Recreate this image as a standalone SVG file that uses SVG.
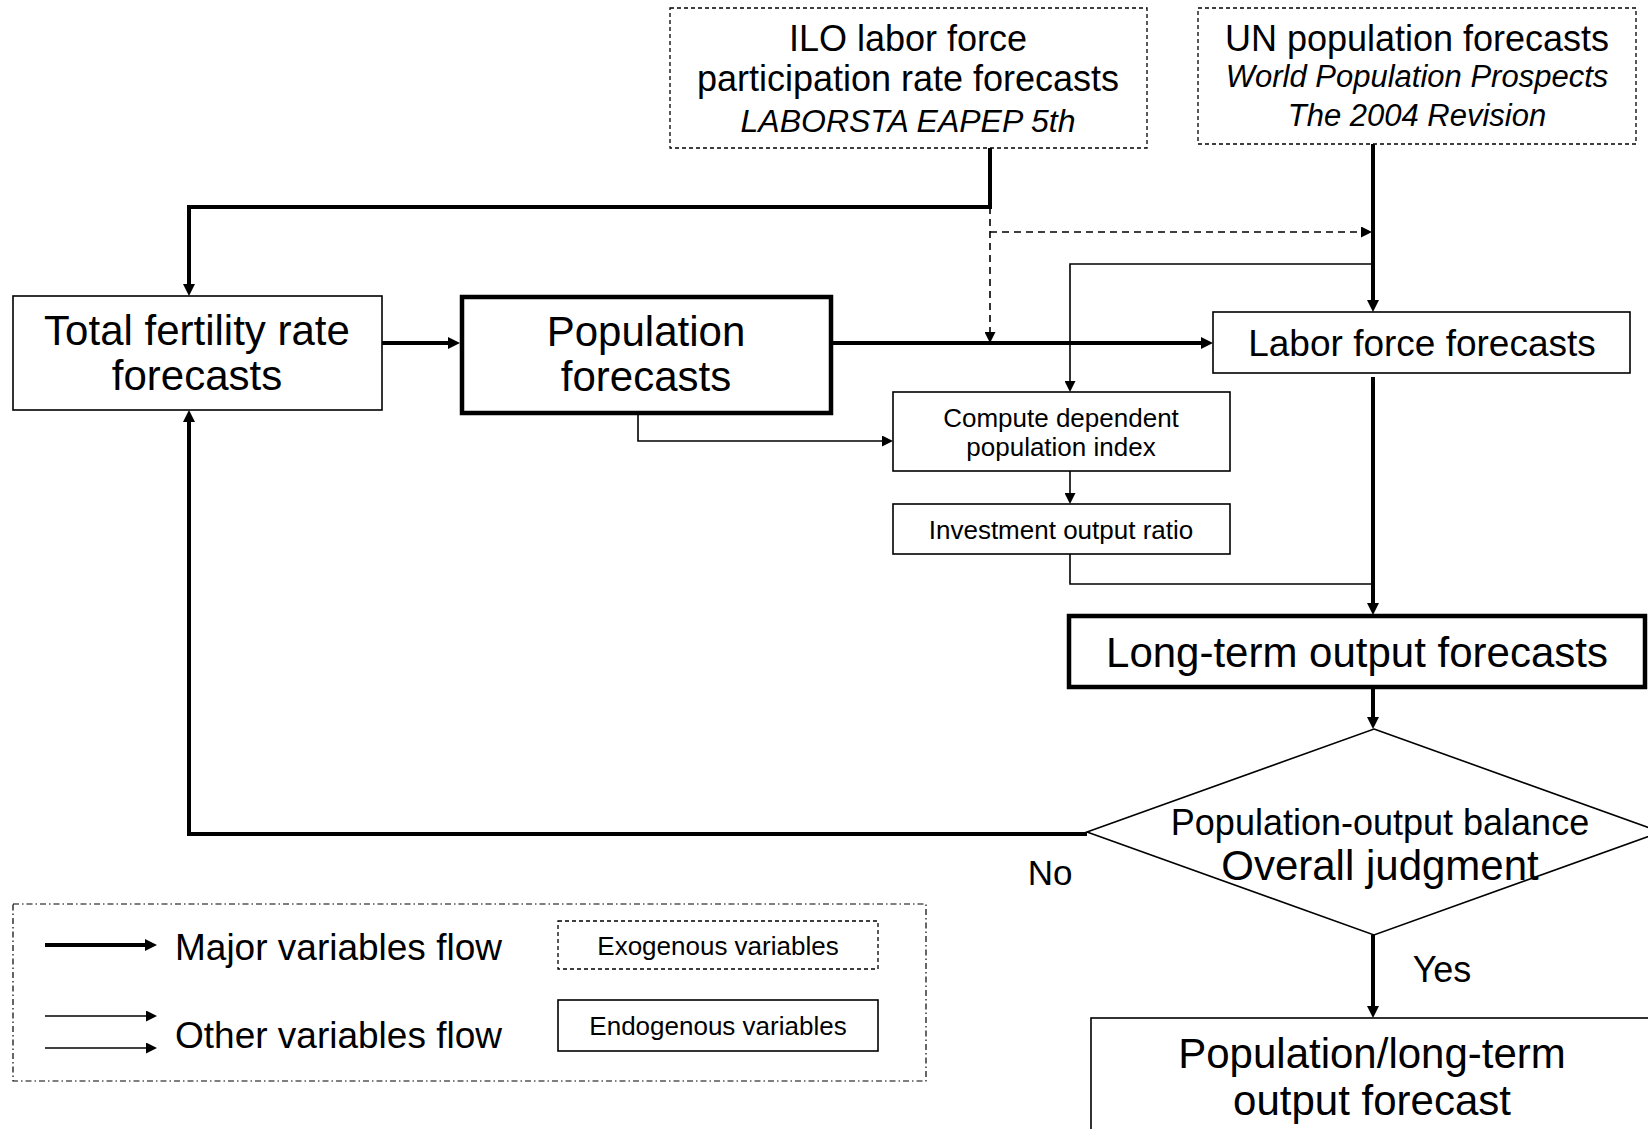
<svg xmlns="http://www.w3.org/2000/svg" width="1648" height="1129" viewBox="0 0 1648 1129">
<style>
text{font-family:"Liberation Sans",Arial,sans-serif;fill:#000;text-anchor:middle}
.box{fill:#fff;stroke:#000;stroke-width:1.6}
.thickbox{fill:#fff;stroke:#000;stroke-width:4.5}
.exo{fill:#fff;stroke:#000;stroke-width:1.3;stroke-dasharray:4 3}
.major{fill:none;stroke:#000;stroke-width:4;marker-end:url(#ah)}
.minor{fill:none;stroke:#000;stroke-width:1.6;marker-end:url(#as)}
.dash{fill:none;stroke:#000;stroke-width:1.6;stroke-dasharray:7 5;marker-end:url(#as)}
.it{font-style:italic}
</style>
<defs>
<marker id="ah" markerUnits="userSpaceOnUse" viewBox="0 0 12 12" refX="0" refY="6" markerWidth="12" markerHeight="12" orient="auto"><path d="M0,0 L12,6 L0,12 z" fill="#000"/></marker>
<marker id="as" markerUnits="userSpaceOnUse" viewBox="0 0 11 11" refX="0" refY="5.5" markerWidth="11" markerHeight="11" orient="auto"><path d="M0,0 L11,5.5 L0,11 z" fill="#000"/></marker>
</defs>
<rect width="1648" height="1129" fill="#fff"/>

<g id="connectors">
<path class="major" d="M990,148 V207 H189 V284"/>
<path class="dash" d="M990,207 V332"/>
<path class="dash" d="M990,232 H1361"/>
<path class="major" d="M1373,144 V300"/>
<path class="minor" d="M1373,264 H1070 V381"/>
<path class="major" d="M382,343 H448"/>
<path class="major" d="M831,343 H1201"/>
<path class="minor" d="M638,413 V441 H882"/>
<path class="minor" d="M1070,471 V493"/>
<path fill="none" stroke="#000" stroke-width="1.6" d="M1070,554 V584 H1373"/>
<path class="major" d="M1373,377 V603"/>
<path class="major" d="M1373,687 V717"/>
<path class="major" d="M1087,834 H189 V422"/>
<path class="major" d="M1373,935 V1006"/>
</g>

<g id="ilo">
<rect class="exo" x="670" y="8" width="477" height="140"/>
<text x="908" y="51" font-size="36">ILO labor force</text>
<text x="908" y="91" font-size="36">participation rate forecasts</text>
<text x="908" y="132" font-size="32" class="it">LABORSTA EAPEP 5th</text>
</g>

<g id="un">
<rect class="exo" x="1198" y="8" width="438" height="136"/>
<text x="1417" y="51" font-size="36">UN population forecasts</text>
<text x="1417" y="87" font-size="31" class="it">World Population Prospects</text>
<text x="1417" y="126" font-size="31" class="it">The 2004 Revision</text>
</g>

<g id="tfr">
<rect class="box" x="13" y="296" width="369" height="114"/>
<text x="197" y="345" font-size="42">Total fertility rate</text>
<text x="197" y="390" font-size="42">forecasts</text>
</g>

<g id="pop">
<rect class="thickbox" x="462" y="297" width="369" height="116"/>
<text x="646" y="346" font-size="42">Population</text>
<text x="646" y="391" font-size="42">forecasts</text>
</g>

<g id="labor">
<rect class="box" x="1213" y="312" width="417" height="61"/>
<text x="1422" y="356" font-size="37">Labor force forecasts</text>
</g>

<g id="dep">
<rect class="box" x="893" y="392" width="337" height="79"/>
<text x="1061" y="427" font-size="26">Compute dependent</text>
<text x="1061" y="456" font-size="26">population index</text>
</g>

<g id="inv">
<rect class="box" x="893" y="504" width="337" height="50"/>
<text x="1061" y="539" font-size="26">Investment output ratio</text>
</g>

<g id="longterm">
<rect class="thickbox" x="1069" y="616" width="576" height="71"/>
<text x="1357" y="667" font-size="42">Long-term output forecasts</text>
</g>

<g id="judge">
<polygon class="box" points="1374,729 1661,832 1374,935 1087,832"/>
<text x="1380" y="835" font-size="36">Population-output balance</text>
<text x="1380" y="880" font-size="42">Overall judgment</text>
</g>

<text x="1050" y="885" font-size="35">No</text>
<text x="1442" y="982" font-size="36">Yes</text>

<g id="final">
<rect class="box" x="1091" y="1018" width="600" height="140"/>
<text x="1372" y="1068" font-size="42">Population/long-term</text>
<text x="1372" y="1115" font-size="42">output forecast</text>
</g>

<g id="legend">
<rect fill="none" stroke="#000" stroke-width="1.2" stroke-dasharray="6 3 1.5 3" x="13" y="904" width="913" height="177"/>
<path class="major" d="M45,945 H145"/>
<path class="minor" d="M45,1016 H146"/>
<path class="minor" d="M45,1048 H146"/>
<text x="175" y="960" font-size="37" style="text-anchor:start">Major variables flow</text>
<text x="175" y="1048" font-size="37" style="text-anchor:start">Other variables flow</text>
<rect class="exo" x="558" y="921" width="320" height="48"/>
<text x="718" y="955" font-size="26">Exogenous variables</text>
<rect class="box" x="558" y="1000" width="320" height="51"/>
<text x="718" y="1035" font-size="26">Endogenous variables</text>
</g>
</svg>
